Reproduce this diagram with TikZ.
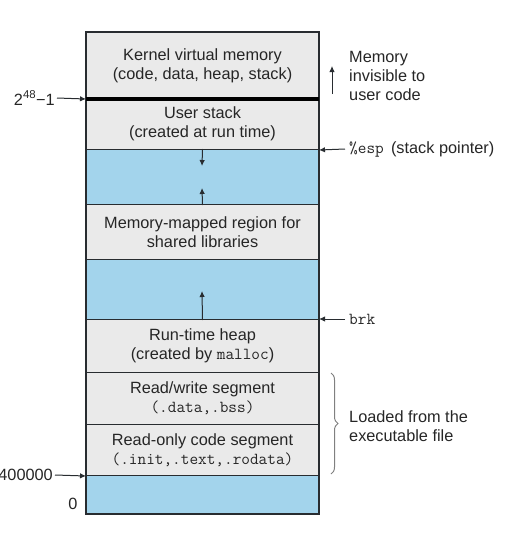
\documentclass[tikz,border=0pt]{standalone}
\usepackage{fontspec}
\setmainfont{Liberation Sans}
\usetikzlibrary{arrows.meta,decorations.pathreplacing}
\definecolor{seggray}{RGB}{234,234,234}
\definecolor{segblue}{RGB}{163,212,236}
\definecolor{lineclr}{RGB}{40,44,48}
\newcommand{\mt}[1]{{\fontsize{16.8}{19}\selectfont\ttfamily #1}}
\begin{document}
\begin{tikzpicture}[x=1pt,y=-1pt,
  seg/.style={draw=lineclr,line width=1pt,minimum width=232pt,anchor=north west,inner sep=0pt,align=center,font=\fontsize{16.3}{19}\selectfont,text=black!85},
  grayseg/.style={seg,fill=seggray},
  blueseg/.style={seg,fill=segblue},
  lbl/.style={font=\fontsize{16.3}{19}\selectfont,text=black!85,inner sep=0pt},
  ptr/.style={draw=lineclr,line width=1pt,-{Latex[length=6pt,width=5.5pt]}}]
\useasboundingbox (0,0) rectangle (514,538);
% segments
\node[grayseg,minimum height=66pt] (kern) at (86,32) {Kernel virtual memory\\(code, data, heap, stack)};
\node[grayseg,minimum height=51pt] (ustack) at (86,98) {User stack\\(created at run time)};
\node[blueseg,minimum height=55pt] (gap1) at (86,149) {};
\node[grayseg,minimum height=55pt] (mmap) at (86,204) {Memory-mapped region for\\shared libraries};
\node[blueseg,minimum height=60pt] (gap2) at (86,259) {};
\node[grayseg,minimum height=53pt] (heap) at (86,319) {Run-time heap\\(created by \mt{malloc})};
\node[grayseg,minimum height=52pt] (rw) at (86,372) {Read/write segment\\\mt{(.data,.bss)}};
\node[grayseg,minimum height=51pt] (ro) at (86,424) {Read-only code segment\\\mt{(.init,.text,.rodata)}};
\node[blueseg,minimum height=38pt] (gap3) at (86,475) {};
% outer frame and thick boundary
\draw[lineclr,line width=1.6pt] (kern.north west) rectangle (gap3.south east);
\draw[black,line width=4pt] (kern.south west) -- (kern.south east);
% growth arrows
\coordinate (sd) at (202,166);
\coordinate (su) at (202,188);
\coordinate (hu) at (202,291);
\draw[ptr] (gap1.north) -- (sd);
\draw[ptr] (gap1.south) -- (su);
\draw[ptr] (gap2.south) -- (hu);
% left labels
\node[lbl,anchor=east] (l48) at (55,98) {2\textsuperscript{48}−1};
\draw[ptr] (l48.east) ++(2,0) -- (kern.south west);
\node[lbl,anchor=east] (l4) at (53,475) {400000};
\draw[ptr] (l4.east) ++(2,0) -- (ro.south west);
\node[lbl] (l0) at (73,504) {0};
% right labels
\coordinate (espstart) at (345,149);
\coordinate (brkstart) at (345,319);
\draw[ptr] (espstart) -- (ustack.south east);
\node[lbl,anchor=west] (esp) at (349,149) {\mt{\%esp}\, (stack pointer)};
\draw[ptr] (brkstart) -- (heap.north east);
\node[lbl,anchor=west] (brk) at (349,319) {\mt{brk}};
\coordinate (invb) at (332,94);
\coordinate (invt) at (332,66);
\draw[ptr] (invb) -- (invt);
\node[lbl,anchor=west,align=left] (inv) at (349,76) {Memory\\invisible to\\user code};
\coordinate (bt) at (331,373);
\coordinate (bb) at (331,474);
\draw[gray,line width=1pt,decorate,decoration={brace,amplitude=7pt}] (bt) -- (bb);
\node[lbl,anchor=west,align=left] (load) at (349,426) {Loaded from the\\executable file};
\end{tikzpicture}
\end{document}
